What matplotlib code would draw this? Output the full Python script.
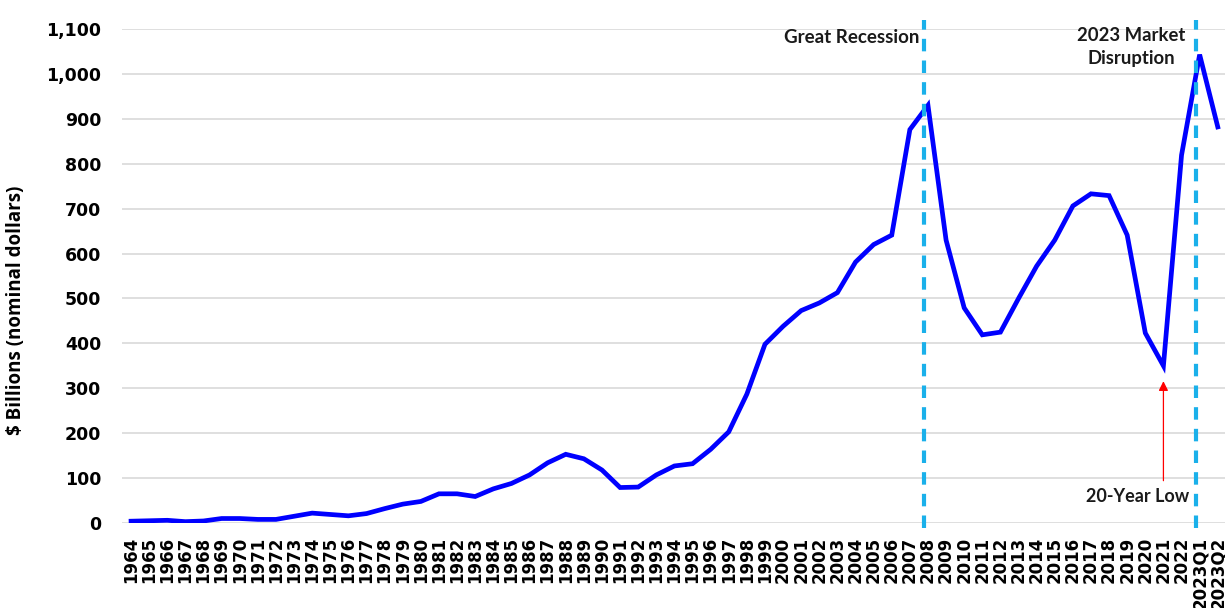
import matplotlib
matplotlib.use("Agg")
import matplotlib.pyplot as plt

years = [str(y) for y in range(1964, 2023)] + ["2023Q1", "2023Q2"]
values = [4, 5, 6, 3, 4.5, 10, 10, 8, 8, 15,
          22, 19, 16, 21, 32, 42, 48, 65, 65, 59,
          76, 88, 107, 134, 153, 143, 118, 79, 80, 107,
          127, 132, 164, 203, 287, 398, 438, 473, 490, 513,
          581, 620, 641, 876, 930, 630, 479, 419, 425, 500,
          572, 630, 706, 733, 729, 641, 423, 350, 819, 1043, 882]
yticks = list(range(0, 1101, 100))
event_labels = ["2008", "2023Q1"]
low_label = "2021"

fig = plt.figure(figsize=(12.25, 6.08), dpi=100)
ax = fig.add_axes([0.0996, 0.1398, 0.9004, 0.8125])
x = list(range(len(years)))

ax.set_xlim(-0.5, len(years) - 0.6)
ax.set_ylim(0, 1100)
ax.set_yticks(yticks)
ax.set_yticklabels([f"{v:,}" for v in yticks], fontsize=12.5, fontweight="bold",
                   family="DejaVu Sans")
ax.set_xticks(x)
ax.set_xticklabels(years, rotation=90, fontsize=12, fontweight="bold",
                   family="DejaVu Sans")
ax.tick_params(axis="both", length=0)
ax.tick_params(axis="y", pad=15)
ax.tick_params(axis="x", pad=10)
for s in ax.spines.values():
    s.set_visible(False)
ax.yaxis.grid(True, color="#d9d9d9", linewidth=1.2)
ax.set_axisbelow(True)

ax.plot(x, values, color="#0000ff", linewidth=3.4, solid_joinstyle="miter", zorder=3)

for lab in event_labels:
    i = years.index(lab)
    ax.vlines(i - 0.2, -12, 1120, colors="#1ab0ea", linestyles=(0, (3, 2.2)),
              linewidth=3, clip_on=False, zorder=4)

gi = years.index("2008")
ax.text(gi - 0.5, 1082, "Great Recession", ha="right", va="center",
        fontsize=13.5, fontweight="bold", family="Lato", color="#1a1a1a")
mi = years.index("2023Q1")
ax.text(mi - 3.8, 1060, "2023 Market\nDisruption", ha="center", va="center",
        fontsize=13.3, fontweight="bold", family="Lato", color="#1a1a1a",
        linespacing=1.4)
li = years.index(low_label)
ax.annotate("", xy=(li, 322), xytext=(li, 88),
            arrowprops=dict(arrowstyle="-|>", color="red", lw=0.9,
                            mutation_scale=14))
ax.text(li - 1.4, 58, "20-Year Low", ha="center", va="center",
        fontsize=13, fontweight="bold", family="Lato", color="#1a1a1a")

ax.set_ylabel("$ Billions (nominal dollars)", fontsize=13.5, fontweight="bold",
              family="Open Sans")
ax.yaxis.set_label_coords(-0.087, 0.43)

fig.savefig("out.png", dpi=100)
